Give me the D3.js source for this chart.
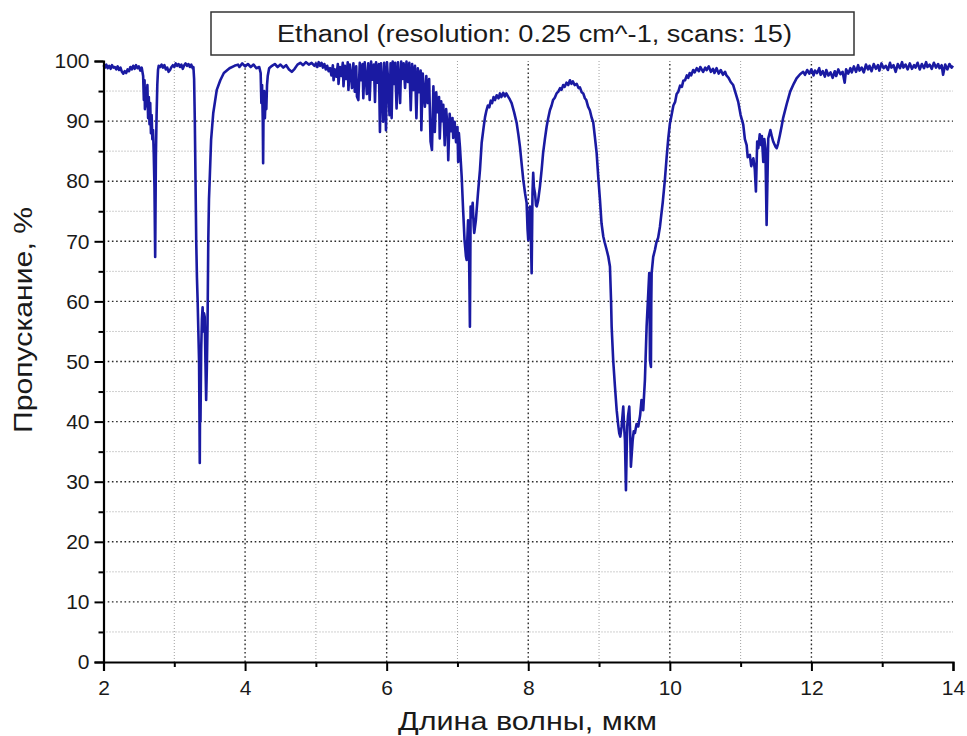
<!DOCTYPE html>
<html>
<head>
<meta charset="utf-8">
<script src="https://cdn.jsdelivr.net/npm/d3@7"></script>
<style>
  html, body { margin: 0; padding: 0; background: #fff; }
  svg { display: block; font-family: "Liberation Sans", Arial, sans-serif; }
</style>
</head>
<body>
<svg id="chart" width="967" height="736"></svg>
<script>
// IR transmission spectrum of ethanol, [wavelength µm, transmission %]
const baseline2to26 = [
  [2.00, 99.3], [2.02, 98.9], [2.04, 99.4], [2.06, 98.8], [2.08, 99.2], [2.10, 98.7],
  [2.12, 99.3], [2.14, 98.9], [2.16, 99.0], [2.18, 98.6], [2.20, 99.1], [2.22, 98.5],
  [2.24, 98.9], [2.26, 98.2], [2.28, 97.9], [2.30, 98.3], [2.32, 98.0], [2.34, 98.6],
  [2.36, 98.3], [2.38, 99.0], [2.40, 98.6], [2.42, 99.2], [2.44, 98.7], [2.46, 99.3],
  [2.48, 98.8], [2.50, 99.1], [2.52, 98.4], [2.54, 98.9]
];
const waterBand = [
  [2.56, 97.5], [2.57, 93.5], [2.58, 96.8], [2.585, 92.0], [2.60, 95.5], [2.61, 92.5],
  [2.62, 96.0], [2.63, 90.5], [2.64, 94.0], [2.65, 89.5], [2.66, 93.0], [2.67, 88.0],
  [2.68, 91.0], [2.69, 87.0], [2.70, 88.5], [2.71, 84.5], [2.72, 79.0], [2.73, 67.4],
  [2.74, 84.0], [2.75, 91.0], [2.76, 96.0], [2.77, 98.5], [2.78, 99.2]
];
const baseline28to33 = [
  [2.80, 99.0], [2.82, 99.4], [2.84, 98.9], [2.86, 99.3], [2.88, 98.6], [2.90, 98.9],
  [2.92, 98.2], [2.94, 98.5], [2.96, 99.0], [2.98, 99.3], [3.00, 99.0], [3.02, 99.6],
  [3.04, 99.2], [3.06, 99.5], [3.08, 99.0], [3.10, 99.4], [3.12, 98.7], [3.14, 99.3],
  [3.16, 99.6], [3.18, 99.2], [3.20, 99.5], [3.22, 99.0], [3.24, 99.4], [3.26, 98.8]
];
const chStretchBand = [
  [3.27, 99.0], [3.28, 97.0], [3.29, 90.0], [3.30, 80.0], [3.31, 70.0], [3.32, 64.0],
  [3.33, 60.0], [3.34, 55.0], [3.35, 50.0], [3.355, 42.0], [3.36, 33.1], [3.365, 46.0],
  [3.37, 40.0], [3.38, 52.0], [3.39, 57.0], [3.40, 59.0], [3.41, 55.0], [3.42, 58.0],
  [3.43, 57.4], [3.44, 50.0], [3.45, 43.6], [3.46, 49.0], [3.47, 56.4], [3.48, 70.0],
  [3.49, 77.0], [3.50, 80.2], [3.52, 86.9], [3.55, 91.3], [3.60, 95.2], [3.65, 96.8],
  [3.70, 98.0], [3.78, 98.8], [3.85, 99.2], [3.90, 99.4]
];
const co2Region = [
  [3.92, 99.0], [3.96, 99.6], [4.00, 99.1], [4.04, 99.5], [4.08, 99.0], [4.12, 99.4],
  [4.16, 98.8], [4.20, 99.0], [4.22, 98.0], [4.23, 93.0], [4.24, 96.0], [4.25, 90.0],
  [4.255, 83.0], [4.26, 91.0], [4.27, 95.0], [4.28, 90.5], [4.29, 94.0], [4.30, 92.0],
  [4.31, 96.0], [4.32, 97.5], [4.34, 98.8], [4.38, 99.2], [4.42, 99.5], [4.46, 99.0],
  [4.50, 99.4], [4.54, 98.9], [4.58, 99.3], [4.62, 98.6], [4.66, 98.2], [4.70, 98.7],
  [4.74, 99.4], [4.78, 99.7], [4.82, 99.3], [4.86, 99.8], [4.90, 99.4], [4.94, 99.7],
  [4.98, 99.2]
];
const vapourLines = [
  [5.00, 99.6], [5.02, 99.0], [5.04, 99.8], [5.06, 99.2], [5.08, 99.7], [5.10, 98.9],
  [5.12, 99.5], [5.14, 98.6], [5.16, 99.2], [5.18, 98.3], [5.20, 98.8], [5.22, 97.6],
  [5.24, 99.3], [5.25, 96.8], [5.27, 98.6], [5.29, 97.4], [5.31, 99.5], [5.32, 96.2],
  [5.34, 99.0], [5.36, 97.5], [5.38, 99.7], [5.39, 95.8], [5.41, 99.2], [5.43, 97.0],
  [5.45, 99.8], [5.46, 95.2], [5.48, 99.4], [5.50, 97.2], [5.51, 95.5], [5.53, 99.6],
  [5.55, 94.9], [5.57, 99.1], [5.58, 94.1], [5.60, 93.5], [5.62, 99.7], [5.64, 96.8],
  [5.66, 99.5], [5.67, 93.8], [5.69, 99.8], [5.71, 96.5], [5.72, 94.5], [5.74, 99.6],
  [5.76, 93.5], [5.78, 99.9], [5.80, 96.9], [5.82, 99.4], [5.835, 93.2], [5.85, 99.8],
  [5.87, 96.4], [5.89, 99.5], [5.905, 88.2], [5.92, 99.6], [5.935, 96.0], [5.95, 89.9],
  [5.965, 99.7], [5.98, 95.5], [5.99, 88.5], [6.005, 99.8], [6.02, 96.8], [6.04, 91.0],
  [6.055, 99.6], [6.07, 90.5], [6.085, 99.9], [6.10, 96.2], [6.12, 99.7], [6.14, 92.1],
  [6.16, 99.8], [6.175, 96.7], [6.19, 93.0], [6.205, 99.9], [6.22, 97.0], [6.24, 99.6],
  [6.26, 95.5], [6.28, 99.9], [6.30, 96.5], [6.32, 99.7], [6.34, 91.8], [6.36, 99.5],
  [6.38, 95.2], [6.40, 99.2], [6.42, 90.5], [6.44, 98.8], [6.46, 94.8], [6.48, 98.4],
  [6.49, 88.5], [6.51, 97.9], [6.53, 94.0], [6.54, 92.4], [6.56, 97.5], [6.58, 93.0],
  [6.60, 97.0], [6.62, 86.6], [6.64, 85.2], [6.66, 95.8], [6.68, 88.2], [6.70, 94.8],
  [6.72, 91.5], [6.74, 94.0], [6.75, 87.1], [6.77, 93.3], [6.79, 90.0], [6.80, 92.7],
  [6.82, 86.0], [6.84, 92.0], [6.86, 89.0], [6.87, 83.5], [6.89, 91.2], [6.91, 88.3],
  [6.93, 90.5], [6.94, 87.2], [6.96, 89.9], [6.98, 86.5], [7.00, 89.0], [7.01, 83.2],
  [7.02, 88.0]
];
const band7to9 = [
  [7.035, 85.7], [7.06, 80.7], [7.08, 75.2], [7.10, 70.2], [7.12, 67.5], [7.13, 66.9],
  [7.14, 70.5], [7.15, 73.5], [7.16, 72.0], [7.17, 62.0], [7.176, 55.8], [7.186, 75.8],
  [7.20, 74.0], [7.215, 76.4], [7.23, 72.5], [7.237, 71.4], [7.26, 73.5], [7.29, 78.0],
  [7.318, 81.9], [7.342, 86.4], [7.37, 89.0], [7.39, 90.7], [7.41, 91.8], [7.43, 92.6],
  [7.45, 92.3], [7.47, 93.4], [7.49, 93.0], [7.51, 94.0], [7.53, 93.5], [7.554, 94.3],
  [7.58, 93.8], [7.60, 94.6], [7.62, 94.0], [7.647, 94.7], [7.67, 94.1], [7.69, 94.6],
  [7.72, 94.0], [7.74, 93.6], [7.765, 93.0], [7.80, 91.5], [7.836, 89.7], [7.86, 87.8],
  [7.883, 85.7], [7.91, 82.5], [7.93, 80.2], [7.955, 78.0], [7.977, 76.4], [7.99, 72.0],
  [8.00, 70.2], [8.01, 74.0], [8.024, 75.8], [8.035, 72.0], [8.048, 64.7], [8.06, 78.0],
  [8.07, 81.4], [8.08, 79.0], [8.095, 78.0], [8.11, 76.0], [8.12, 75.8], [8.14, 76.8],
  [8.165, 79.1], [8.19, 82.0], [8.21, 84.7], [8.235, 87.0], [8.26, 89.1], [8.28, 90.4],
  [8.306, 91.8], [8.33, 92.6], [8.35, 93.5], [8.375, 93.9], [8.40, 94.6], [8.425, 94.9],
  [8.45, 95.5], [8.47, 95.2], [8.494, 96.0], [8.515, 95.7], [8.54, 96.4], [8.565, 96.0],
  [8.589, 96.8], [8.61, 96.2], [8.63, 96.6], [8.655, 96.0], [8.684, 96.2], [8.71, 95.5],
  [8.73, 95.6], [8.755, 94.8], [8.777, 94.6], [8.80, 93.8], [8.82, 93.5], [8.845, 92.4],
  [8.87, 91.8], [8.895, 90.6], [8.918, 89.8], [8.94, 87.5], [8.966, 84.7]
];
const band9to10 = [
  [8.99, 80.5], [9.013, 76.9], [9.035, 73.0], [9.06, 70.8], [9.08, 69.8], [9.107, 68.6],
  [9.13, 67.5], [9.154, 65.8], [9.17, 60.0], [9.178, 55.8], [9.20, 50.2], [9.225, 45.8],
  [9.249, 41.9], [9.27, 39.5], [9.285, 38.1], [9.30, 37.5], [9.319, 39.2], [9.342, 42.5],
  [9.355, 39.0], [9.366, 36.9], [9.38, 28.6], [9.39, 35.0], [9.398, 39.2], [9.41, 41.0],
  [9.427, 42.5], [9.44, 38.0], [9.45, 32.5], [9.475, 36.9], [9.49, 38.4], [9.507, 38.1],
  [9.53, 39.6], [9.554, 39.2], [9.58, 41.0], [9.60, 43.6], [9.624, 41.9], [9.648, 46.9],
  [9.672, 55.8], [9.695, 61.3], [9.709, 64.7], [9.715, 58.0], [9.719, 50.2], [9.733, 49.1],
  [9.738, 60.0], [9.743, 64.7], [9.765, 67.4], [9.79, 68.6], [9.81, 69.8], [9.835, 70.6],
  [9.86, 72.4], [9.90, 76.5], [9.93, 80.2], [9.955, 84.0], [9.977, 87.0], [10.00, 89.5],
  [10.025, 91.0], [10.05, 92.6], [10.075, 93.2], [10.096, 94.5], [10.12, 94.9],
  [10.145, 95.9], [10.17, 95.7], [10.19, 96.7], [10.215, 96.8], [10.24, 97.6],
  [10.26, 97.2], [10.28, 98.0], [10.30, 97.6]
];
const band11to14 = [
  [10.33, 98.5], [10.35, 98.1], [10.38, 98.8], [10.41, 98.3], [10.43, 99.0], [10.47, 98.2],
  [10.50, 98.9], [10.52, 98.5], [10.55, 99.1], [10.58, 98.2], [10.61, 98.7], [10.63, 98.0],
  [10.66, 98.8], [10.69, 97.9], [10.72, 98.5], [10.75, 97.7], [10.78, 98.2], [10.80, 97.6],
  [10.83, 97.2], [10.86, 96.5], [10.895, 96.0], [10.93, 94.6], [10.966, 93.2],
  [11.00, 91.0], [11.037, 89.4], [11.06, 87.0], [11.085, 86.0], [11.10, 84.0], [11.13, 84.4],
  [11.15, 82.5], [11.18, 83.8], [11.20, 82.0], [11.216, 78.3], [11.234, 86.6], [11.25, 85.5],
  [11.27, 87.8], [11.29, 86.0], [11.30, 87.5], [11.32, 83.2], [11.335, 87.0], [11.35, 85.5],
  [11.367, 72.7], [11.39, 87.1], [11.42, 88.5], [11.44, 87.5], [11.46, 86.6], [11.49, 85.8],
  [11.51, 85.5], [11.53, 86.3], [11.555, 87.7], [11.58, 89.2], [11.60, 90.5], [11.65, 92.8],
  [11.70, 94.9], [11.75, 96.2], [11.79, 97.1], [11.84, 97.8], [11.884, 98.2], [11.91, 97.7],
  [11.94, 98.5], [11.97, 97.9], [12.00, 98.6], [12.03, 97.6], [12.05, 98.4], [12.08, 98.0],
  [12.11, 98.8], [12.13, 97.7], [12.16, 98.3], [12.19, 97.4], [12.21, 98.5], [12.24, 97.6],
  [12.27, 98.1], [12.30, 97.2], [12.33, 98.3], [12.35, 97.5], [12.38, 98.6], [12.41, 97.8],
  [12.44, 98.2], [12.47, 96.4], [12.49, 98.6], [12.52, 97.9], [12.55, 98.8], [12.57, 98.1],
  [12.60, 99.1], [12.63, 98.2], [12.66, 99.3], [12.68, 98.4], [12.71, 98.9], [12.74, 98.1],
  [12.77, 99.4], [12.80, 98.6], [12.82, 99.2], [12.85, 98.3], [12.88, 99.5], [12.91, 98.7],
  [12.94, 99.3], [12.96, 98.4], [12.99, 99.6], [13.02, 98.8], [13.05, 99.2], [13.08, 98.5],
  [13.11, 99.7], [13.13, 98.9], [13.16, 99.3], [13.19, 98.2], [13.22, 99.5], [13.25, 98.8],
  [13.28, 99.8], [13.30, 98.9], [13.33, 99.4], [13.36, 98.6], [13.39, 99.6], [13.42, 98.7],
  [13.45, 99.3], [13.47, 98.9], [13.50, 99.7], [13.53, 98.6], [13.56, 99.5], [13.59, 98.8],
  [13.62, 99.8], [13.64, 99.0], [13.67, 99.4], [13.70, 98.7], [13.73, 99.7], [13.76, 98.9],
  [13.79, 99.5], [13.81, 98.8], [13.84, 99.3], [13.86, 97.7], [13.89, 99.4], [13.92, 98.6],
  [13.95, 99.5], [13.98, 98.9], [14.00, 99.2]
];

// Axis ticks
const xMajorTicks = [2, 4, 6, 8, 10, 12, 14];
const xMinorTicks = [3, 5, 7, 9, 11, 13];
const yMajorTicks = [0, 10, 20, 30, 40, 50, 60, 70, 80, 90, 100];
const yMinorTicks = [5, 15, 25, 35, 45, 55, 65, 75, 85, 95];

const titleText = "Ethanol (resolution: 0.25 cm^-1, scans: 15)";
const xLabel = "Длина волны, мкм";
const yLabel = "Пропускание, %";

const spectrum = [].concat(
  baseline2to26, waterBand, baseline28to33, chStretchBand, co2Region,
  vapourLines, band7to9, band9to10, band11to14
);

const svg = d3.select("#chart");
const plotLeft = 103.5, plotRight = 953, plotTop = 61, plotBottom = 662;

const x = d3.scaleLinear().domain([2, 14]).range([plotLeft, plotRight]);
const y = d3.scaleLinear().domain([0, 100]).range([plotBottom, plotTop]);

// Grid lines: dense dark dots on major steps, light fine dots on minor steps
const grid = svg.append("g");
grid.selectAll("line.vminor").data(xMinorTicks).join("line")
  .attr("x1", d => x(d)).attr("x2", d => x(d)).attr("y1", plotBottom).attr("y2", plotTop)
  .attr("stroke", "#a0a0a0").attr("stroke-width", 1).attr("stroke-dasharray", "1,2");
grid.selectAll("line.vmajor").data(xMajorTicks.filter(d => d > 2 && d < 14)).join("line")
  .attr("x1", d => x(d)).attr("x2", d => x(d)).attr("y1", plotBottom).attr("y2", plotTop)
  .attr("stroke", "#2a2a2a").attr("stroke-width", 1.4).attr("stroke-dasharray", "1.6,2.6");
grid.selectAll("line.hminor").data(yMinorTicks).join("line")
  .attr("x1", plotLeft).attr("x2", plotRight).attr("y1", d => y(d)).attr("y2", d => y(d))
  .attr("stroke", "#a0a0a0").attr("stroke-width", 1).attr("stroke-dasharray", "1,2");
grid.selectAll("line.hmajor").data(yMajorTicks.filter(d => d > 0 && d < 100)).join("line")
  .attr("x1", plotLeft).attr("x2", plotRight).attr("y1", d => y(d)).attr("y2", d => y(d))
  .attr("stroke", "#2a2a2a").attr("stroke-width", 1.4).attr("stroke-dasharray", "1.6,2.6");

// Spectrum trace
const line = d3.line().x(d => x(d[0])).y(d => y(d[1]));
svg.append("path")
  .datum(spectrum)
  .attr("d", line)
  .attr("fill", "none")
  .attr("stroke", "#1a1aa2")
  .attr("stroke-width", 2.6)
  .attr("stroke-linejoin", "round");

// Axes
const xAxis = svg.append("g").attr("transform", `translate(0,${plotBottom})`)
  .call(d3.axisBottom(x).tickValues(xMajorTicks).tickSize(9).tickPadding(6).tickFormat(d3.format("d")));
const xMinor = svg.append("g").attr("transform", `translate(0,${plotBottom})`)
  .call(d3.axisBottom(x).tickValues(xMinorTicks).tickSize(5).tickFormat(""));
const yAxis = svg.append("g").attr("transform", `translate(${plotLeft},0)`)
  .call(d3.axisLeft(y).tickValues(yMajorTicks).tickSize(9).tickPadding(5).tickFormat(d3.format("d")));
const yMinor = svg.append("g").attr("transform", `translate(${plotLeft},0)`)
  .call(d3.axisLeft(y).tickValues(yMinorTicks).tickSize(5).tickFormat(""));

[xAxis, xMinor, yAxis, yMinor].forEach(g => {
  g.select(".domain").attr("stroke", "#000").attr("stroke-width", 2.2);
  g.selectAll(".tick line").attr("stroke", "#000").attr("stroke-width", 2);
  g.selectAll(".tick text").attr("fill", "#1a1a1a").attr("font-size", 21)
    .attr("font-family", "'Liberation Sans', Arial, sans-serif");
});
xMinor.select(".domain").remove();
yMinor.select(".domain").remove();
xAxis.selectAll(".tick text").attr("dy", "0.85em");

// Axis titles
svg.append("text")
  .attr("x", 527.5).attr("y", 730)
  .attr("text-anchor", "middle").attr("font-size", 25).attr("fill", "#1a1a1a")
  .attr("textLength", 259).attr("lengthAdjust", "spacingAndGlyphs")
  .text(xLabel);
svg.append("text")
  .attr("transform", "translate(32,320) rotate(-90)")
  .attr("text-anchor", "middle").attr("font-size", 25).attr("fill", "#1a1a1a")
  .attr("textLength", 226).attr("lengthAdjust", "spacingAndGlyphs")
  .text(yLabel);

// Title box
svg.append("rect")
  .attr("x", 211).attr("y", 12).attr("width", 643).attr("height", 43)
  .attr("fill", "#fff").attr("stroke", "#333").attr("stroke-width", 1.5);
svg.append("text")
  .attr("x", 534.5).attr("y", 42)
  .attr("text-anchor", "middle").attr("font-size", 23).attr("fill", "#1a1a1a")
  .attr("textLength", 515).attr("lengthAdjust", "spacingAndGlyphs")
  .text(titleText);
</script>
</body>
</html>
